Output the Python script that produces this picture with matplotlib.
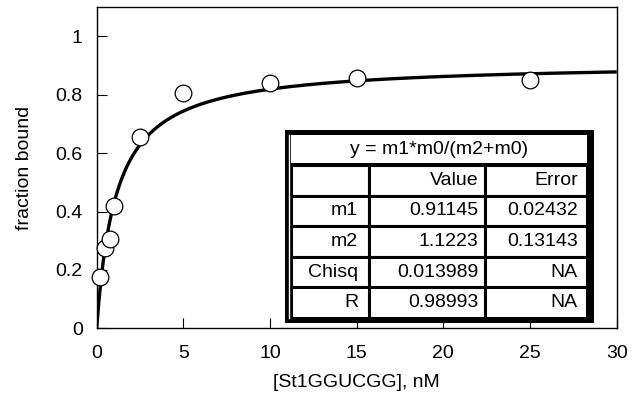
import numpy as np
import matplotlib
matplotlib.use("Agg")
import matplotlib.pyplot as plt
from matplotlib.patches import Rectangle
from matplotlib.lines import Line2D

plt.rcParams["font.family"] = ["Liberation Sans", "DejaVu Sans"]
plt.rcParams["font.size"] = 14

# measured binding data
conc = [0.2, 0.5, 0.75, 1.0, 2.5, 5.0, 10.0, 15.0, 25.0]
frac = [0.176, 0.275, 0.305, 0.42, 0.657, 0.808, 0.840, 0.859, 0.851]

# fit results shown in the box
m1, m2 = 0.91145, 1.1223
fit_label = "y = m1*m0/(m2+m0)"
row_names = ["m1", "m2", "Chisq", "R"]
col_names = ["", "Value", "Error"]
values = ["0.91145", "1.1223", "0.013989", "0.98993"]
errors = ["0.02432", "0.13143", "NA", "NA"]

W, H = 633, 403
fig = plt.figure(figsize=(W / 100, H / 100), dpi=100)
L, R, T, B = 96.7, 616.7, 7.3, 328.3
ax = fig.add_axes([L / W, 1 - B / H, (R - L) / W, (B - T) / H])


def fx(px):
    return (px - L) / (R - L)


def fy(py):
    return (B - py) / (B - T)


# fitted curve from the parameters in the box
xx = np.linspace(0, 30, 600)
ax.plot(xx, m1 * xx / (m2 + xx), color="black", lw=2.4, zorder=3,
        solid_capstyle="butt")
ax.plot(conc, frac, "o", ms=12, mfc="white", mec="black", mew=0.9,
        zorder=4, clip_on=False)

ax.set_xlim(0, 30)
ax.set_ylim(0, 1.1)
ax.set_xticks(range(0, 31, 5))
ax.set_yticks([0, 0.2, 0.4, 0.6, 0.8, 1.0])
ax.set_yticklabels(["0", "0.2", "0.4", "0.6", "0.8", "1"])
ax.tick_params(direction="in", length=7.5, width=0.8, top=False,
               right=False)
ax.tick_params(axis="y", pad=10)
ax.tick_params(axis="x", pad=12)
for s in ax.spines.values():
    s.set_linewidth(1.0)
ax.set_xlabel("[St1GGUCGG], nM", labelpad=9)
ax.set_ylabel("fraction bound", labelpad=16)

# ---- fit-result box ----
tx0, tx1, ty0, ty1, th = 291, 587, 135, 318, 165
ax.add_patch(Rectangle((fx(285), fy(323)), fx(594) - fx(285),
                       fy(130) - fy(323), transform=ax.transAxes,
                       facecolor="black", edgecolor="none", zorder=5))
ax.add_patch(Rectangle((fx(tx0), fy(th - 2)), fx(tx1) - fx(tx0),
                       fy(ty0) - fy(th - 2), transform=ax.transAxes,
                       facecolor="white", edgecolor="none", zorder=6))

cell_text = [col_names]
for n, v, e in zip(row_names, values, errors):
    cell_text.append([n, v, e])
widths = np.array([369 - 291, 485 - 369, 587 - 485]) / (tx1 - tx0)
tbl = ax.table(cellText=cell_text,
               colWidths=list(widths * (fx(tx1) - fx(tx0))),
               cellLoc="right",
               bbox=[fx(tx0), fy(ty1), fx(tx1) - fx(tx0), fy(th) - fy(ty1)],
               zorder=6)
tbl.auto_set_font_size(False)
tbl.set_fontsize(14)
pads = [0.14, 0.06, 0.09]
for (r, c), cell in tbl.get_celld().items():
    cell.set_linewidth(2.2)
    cell.set_edgecolor("black")
    cell.set_facecolor("white")
    cell.PAD = pads[c]
ax.add_line(Line2D([fx(289.2)] * 2, [fy(318), fy(135)], color="white",
                   lw=1.0, transform=ax.transAxes, zorder=7))
ax.text(fx((tx0 + tx1) / 2), fy(150), fit_label, ha="center", va="center",
        fontsize=14, transform=ax.transAxes, zorder=8)

fig.savefig("out.png", dpi=100)
